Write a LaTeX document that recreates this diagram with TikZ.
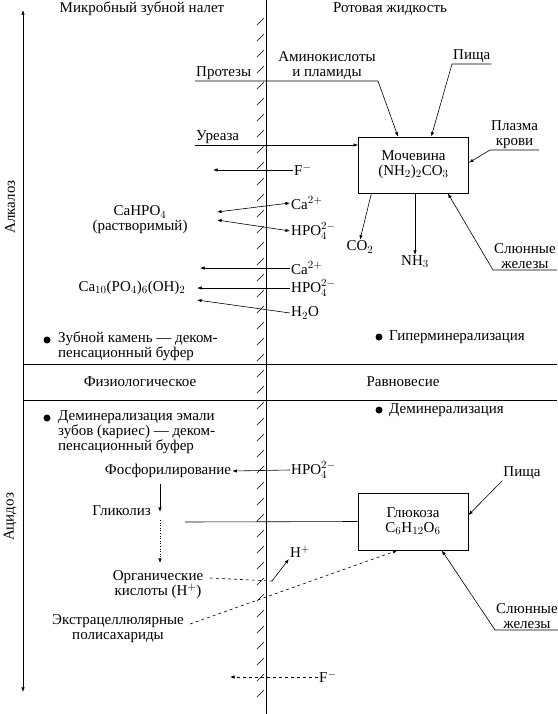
\documentclass[tikz,border=0pt]{standalone}
\usepackage{fontspec}
\setmainfont{Liberation Serif}
\usetikzlibrary{arrows.meta,positioning,calc}
\tikzset{
  txt/.style   = {inner sep=1pt, align=center},
  chem/.style  = {draw, thick, rectangle, minimum width=110pt,
                  minimum height=56pt, align=center},
  flow/.style  = {-{Latex[length=1.6mm,width=1.2mm]}, semithick},
  both/.style  = {{Latex[length=1.6mm,width=1.2mm]}-{Latex[length=1.6mm,width=1.2mm]}, semithick},
  lead/.style  = {semithick},
}

\begin{document}
\begin{tikzpicture}[x=1pt, y=-1pt, font=\fontsize{15}{15}\selectfont]
\useasboundingbox (0,0) rectangle (557,714);
% ---- headings and the tooth surface ----
\node[txt] (plaque) at (142,9) {Микробный зубной налет};
\node[txt] (fluid) at (390,9) {Ротовая жидкость};
\draw[thick] (266,0) -- (266,714);
\foreach \y in {18,34,...,704}
  \draw[thin] (257,\y+7) -- (264,\y);
% ---- pH axis ----
\draw[flow] (23,382) -- (23,10);
\draw[flow] (23,382) -- (23,692);
\node[txt, rotate=90] (alk) at (10,207) {Алкалоз};
\node[txt, rotate=90] (acid) at (10,517) {Ацидоз};
% ---- urea ----
\node[chem] (urea) at (413.5,165) {Мочевина\\(NH$_2$)$_2$CO$_3$};
\node[txt, anchor=south west] (prosth) at (195,81) {Протезы};
\node[txt] (amino) at (327,66) {Аминокислоты\\и пламиды};
\coordinate (bend) at (378,81);
\draw[flow] (prosth.south west) -- (bend)
            -- ($(urea.north west)!0.36!(urea.north east)$);
\node[txt, anchor=south west] (foodA) at (452,64) {Пища};
\draw[flow] (foodA.south east) -- (foodA.south west)
            -- ($(urea.north west)!0.66!(urea.north east)$);
\node[txt, anchor=south west] (urease) at (195,145) {Уреаза};
\draw[flow] (urease.south west) -- (urease.south -| urea.west);
\node[txt, anchor=south west] (plasma) at (490,150) {Плазма\\крови};
\draw[flow] (plasma.south east) -- (plasma.south west)
            -- ($(urea.north east)!0.46!(urea.south east)$);
\node[txt] (co2) at (360,247) {CO$_2$};
\draw[flow] ($(urea.south west)!0.12!(urea.south east)$) -- (co2.north);
\node[txt] (nh3) at (415,262) {NH$_3$};
\draw[flow] (urea.south -| nh3) -- (nh3.north);
\node[txt, anchor=south west] (salivaA) at (493,270) {Слюнные\\железы};
\draw[flow] (salivaA.south east) -- (salivaA.south west)
            -- ($(urea.south west)!0.81!(urea.south east)$);
% ---- ions, alkaline side ----
\node[txt, anchor=west] (fluorA) at (293,170) {F$^-$};
\coordinate (fA) at (213,170);
\draw[flow] (fluorA.west) -- (fA);
\node[txt] (cahpo) at (140,220) {CaHPO$_4$\\(растворимый)};
\node[txt, anchor=west] (caA) at (290,203) {Ca$^{2+}$};
\node[txt, anchor=west] (hpoA) at (290,231) {HPO$_4^{2-}$};
\coordinate (cA) at (217,212);
\coordinate (cB) at (217,220);
\draw[both] (cA) -- (caA.west);
\draw[both] (cB) -- (hpoA.west);
\node[txt] (apatite) at (132,288) {Ca$_{10}$(PO$_4$)$_6$(OH)$_2$};
\node[txt, anchor=west] (caB) at (290,268) {Ca$^{2+}$};
\node[txt, anchor=west] (hpoB) at (290,288) {HPO$_4^{2-}$};
\node[txt, anchor=west] (water) at (290,313) {H$_2$O};
\coordinate (aA) at (200,268);
\coordinate (aB) at (197,288);
\coordinate (aC) at (197,300);
\draw[flow] (caB.west) -- (aA);
\draw[flow] (hpoB.west) -- (aB);
\draw[flow] (water.west) -- (aC);
% ---- buffer rows ----
\fill (47,340) circle (3.5);
\node[txt, anchor=north west, align=left] (stone) at (57,331)
      {Зубной камень — деком-\\пенсационный буфер};
\fill (379,337) circle (3.5);
\node[txt, anchor=west] (hyper) at (388,337) {Гиперминерализация};
\draw[lead] (23,364) -- (557,364);
\draw[lead] (23,400) -- (557,400);
\node[txt] (physio) at (140,382) {Физиологическое};
\node[txt] (balance) at (403,382) {Равновесие};
\fill (47,418) circle (3.5);
\node[txt, anchor=north west, align=left] (demin) at (57,409)
      {Деминерализация эмали\\зубов (кариес) — деком-\\пенсационный буфер};
\fill (379,410) circle (3.5);
\node[txt, anchor=west] (deminB) at (388,410) {Деминерализация};
% ---- glucose ----
\node[chem, minimum height=57pt] (glucose) at (413,521.5)
      {Глюкоза\\C$_6$H$_{12}$O$_6$};
\node[txt] (phos) at (168,471) {Фосфорилирование};
\node[txt, anchor=west] (hpoC) at (290,470) {HPO$_4^{2-}$};
\draw[flow] (hpoC.west) -- (phos.east);
\node[txt, anchor=east] (glyco) at (152,511) {Гликолиз};
\coordinate (gA) at (160,484);
\coordinate (gB) at (160,512);
\coordinate (gC) at (160,520);
\coordinate (gD) at (160,563);
\draw[flow] (gA) -- (gB);
\draw[flow, dotted] (gC) -- (gD);
\coordinate (gly) at (185,522);
\draw[lead] (gly) -- (glucose.west);
\node[txt] (acids) at (158,585) {Органические\\кислоты (H$^+$)};
\node[txt] (hplus) at (300,552) {H$^+$};
\coordinate (aE) at (210,578);
\coordinate (hA) at (272,581);
\draw[lead, dashed] (aE) -- (hA);
\draw[flow] (hA) -- (hplus.south west);
\node[txt] (foodB) at (522,473) {Пища};
\draw[flow] (foodB.south west)
            -- ($(glucose.north east)!0.39!(glucose.south east)$);
\node[txt] (polys) at (118,629) {Экстрацеллюлярные\\полисахариды};
\coordinate (pE) at (190,624);
\draw[flow, dashed] (pE) -- ($(glucose.south west)!0.36!(glucose.south east)$);
\node[txt, anchor=south west] (salivaB) at (495,630) {Слюнные\\железы};
\draw[flow] (salivaB.south east) -- (salivaB.south west)
            -- ($(glucose.south west)!0.76!(glucose.south east)$);
\node[txt, anchor=west] (fluorB) at (318,677) {F$^-$};
\coordinate (fB) at (230,677);
\draw[flow, dashed] (fluorB.west) -- (fB);
\end{tikzpicture}
\end{document}
